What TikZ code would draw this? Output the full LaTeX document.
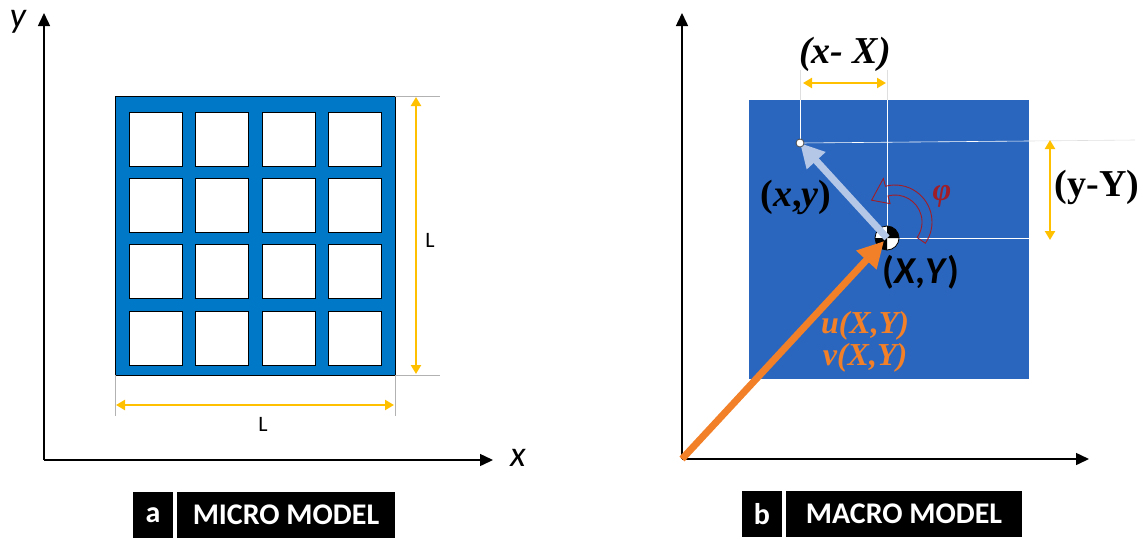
\documentclass[tikz,border=0pt]{standalone}
\usepackage{fontspec}
\setmainfont{Liberation Serif}
\setsansfont{Carlito}
\usetikzlibrary{arrows.meta,calc}
\definecolor{microblue}{RGB}{0,120,200}
\definecolor{macroblue}{RGB}{42,102,190}
\definecolor{dimyellow}{RGB}{255,192,0}
\definecolor{disporange}{RGB}{242,128,40}
\definecolor{arrowblue}{RGB}{180,199,231}
\definecolor{rotred}{RGB}{160,30,40}
\begin{document}
\begin{tikzpicture}[x=1pt,y=1pt,
  axis/.style={line width=1.5pt,-{Triangle[length=13pt,width=12pt]}},
  dimline/.style={dimyellow,line width=2.2pt,{Triangle[length=9pt,width=10pt]}-{Triangle[length=9pt,width=10pt]}},
  extline/.style={gray!60,line width=0.6pt},
  guide/.style={white,line width=0.6pt},
  hole/.style={fill=white,draw=black,line width=1pt},
  tag/.style={fill=black,text=white,font=\sffamily\bfseries\fontsize{30}{32}\selectfont,minimum height=46pt,inner sep=0pt}]
\useasboundingbox (0,0) rectangle (1143,-539);
% micro model
\coordinate (o1) at (44,-460);
\coordinate (y1) at (44,-13);
\coordinate (x1) at (493,-460);
\draw[axis] (o1) -- (y1);
\draw[axis] (o1) -- (x1);
\node[font=\sffamily\itshape\fontsize{36}{38}\selectfont] (ylab) at (18,-22) {y};
\node[font=\sffamily\itshape\fontsize{36}{38}\selectfont] (xlab) at (518,-458) {x};
\draw[fill=microblue,line width=1pt] (115,-96) rectangle (395,-375);
\foreach \i in {0,...,3}
  \foreach \j in {0,...,3}
    \draw[hole] ({129+66.6*\i},{-112-66.4*\j}) rectangle +(53,-54);
\draw[extline] (395,-96) -- (440,-96);
\draw[extline] (395,-375) -- (440,-375);
\draw[extline] (115,-375) -- (115,-416);
\draw[extline] (395,-375) -- (395,-416);
\coordinate (lt) at (416,-97);
\coordinate (lb) at (416,-374);
\draw[dimline] (lt) -- (lb);
\node[font=\sffamily\fontsize{22}{24}\selectfont] (lv) at (430,-240) {L};
\coordinate (ll) at (116,-405);
\coordinate (lr) at (394,-405);
\draw[dimline] (ll) -- (lr);
\node[font=\sffamily\fontsize{22}{24}\selectfont] (lh) at (263,-424) {L};
\node[tag,minimum width=40pt] (taga) at (153,-515) {a};
\node[tag,minimum width=218pt] (micro) at (286,-515) {MICRO MODEL};
% macro model
\coordinate (o2) at (682,-459);
\coordinate (y2) at (682,-13);
\coordinate (x2) at (1089,-459);
\draw[axis] (o2) -- (y2);
\draw[axis] (o2) -- (x2);
\fill[macroblue] (749,-100) rectangle (1029,-379);
\coordinate (P) at (800,-143);
\coordinate (C) at (887,-238);
\draw[gray!25,line width=0.6pt] (800,-70) -- (800,-100);
\draw[gray!25,line width=0.6pt] (887,-70) -- (887,-100);
\draw[gray!25,line width=0.6pt] (1029,-141) -- (1135,-140);
\draw[guide] (800,-100) -- (P);
\draw[guide] (887,-100) -- (C);
\draw[guide] (P) -- (1029,-141);
\draw[guide] (C) -- (1029,-238);
% centre marker
\fill[white] (C) circle (12);
\fill[black] (C) -- ++(12,0) arc[start angle=0,end angle=90,radius=12] -- cycle;
\fill[black] (C) -- ++(-12,0) arc[start angle=180,end angle=270,radius=12] -- cycle;
\draw[black,line width=0.8pt] (C) circle (12);
\draw[arrowblue,line width=7pt,-{Triangle[length=24pt,width=24pt]}] (C) -- (P);
\draw[disporange,line width=7pt,-{Triangle[length=26pt,width=26pt]}] (o2) -- ($(C)+(-3,-3)$);
\draw[fill=white,draw=black!70,line width=0.8pt] (P) circle (4);
% rotation
\coordinate (R) at (895,-222);
\draw[rotred,line width=0.9pt] ($(R)+(-35:37)$) arc[start angle=-35,end angle=105,radius=37]
  -- ($(R)+(105:45)$) -- ($(R)+(137:32)$) -- ($(R)+(105:19)$) -- ($(R)+(105:27)$)
  arc[start angle=105,end angle=-35,radius=27] -- cycle;
\node[rotred,font=\bfseries\itshape\fontsize{32}{34}\selectfont] (phi) at (942,-196) {φ};
% labels
\coordinate (dl) at (803,-83);
\coordinate (dr) at (886,-83);
\draw[dimline] (dl) -- (dr);
\node[font=\bfseries\itshape\fontsize{38}{40}\selectfont] (dx) at (845,-54) {(x- X)};
\coordinate (dt) at (1050,-140);
\coordinate (db) at (1050,-240);
\draw[dimline] (dt) -- (db);
\node[font=\bfseries\fontsize{38}{40}\selectfont] (dy) at (1097,-187) {(y-Y)};
\node[font=\bfseries\fontsize{38}{40}\selectfont] (pxy) at (796,-197) {(\textit{x},\textit{y})};
\node[font=\sffamily\bfseries\fontsize{38}{40}\selectfont] (cxy) at (921,-272) {(\textit{X},\textit{Y})};
\node[disporange,font=\bfseries\itshape\fontsize{32}{34}\selectfont] (uxy) at (865,-326) {u(X,Y)};
\node[disporange,font=\bfseries\itshape\fontsize{32}{34}\selectfont] (vxy) at (865,-358) {v(X,Y)};
\node[tag,minimum width=40pt] (tagb) at (762,-514) {b};
\node[tag,minimum width=236pt] (macro) at (904,-514) {MACRO MODEL};
\end{tikzpicture}
\end{document}
